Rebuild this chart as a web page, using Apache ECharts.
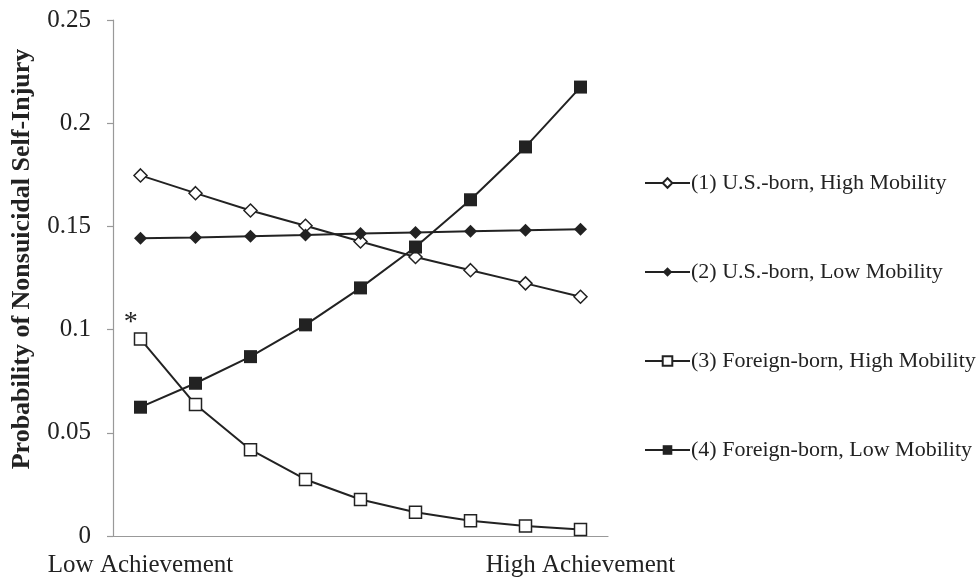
<!DOCTYPE html>
<html>
<head>
<meta charset="utf-8">
<script src="https://cdn.jsdelivr.net/npm/echarts@6/dist/echarts.min.js"></script>
<style>html,body{margin:0;padding:0;background:#fff;}#c{width:979px;height:585px;}</style>
</head>
<body>
<div id="c"></div>
<script>
var categories = ['Low Achievement', '', '', '', '', '', '', '', 'High Achievement'];
var yTicks = [0, 0.05, 0.1, 0.15, 0.2, 0.25];
var seriesNames = ['(1) U.S.-born, High Mobility', '(2) U.S.-born, Low Mobility', '(3) Foreign-born, High Mobility', '(4) Foreign-born, Low Mobility'];
var usHigh = [0.1747, 0.1661, 0.1577, 0.1503, 0.1427, 0.1352, 0.1288, 0.1224, 0.1159];
var usLow = [0.1442, 0.1446, 0.1452, 0.1458, 0.1465, 0.1471, 0.1477, 0.1481, 0.1486];
var fbHigh = [0.0954, 0.0637, 0.0418, 0.0274, 0.0177, 0.0115, 0.0074, 0.0048, 0.0031];
var fbLow = [0.0624, 0.0740, 0.0869, 0.1023, 0.1202, 0.1400, 0.1629, 0.1885, 0.2175];
var asteriskMark = '*';

var FONT = '"Liberation Serif","Times New Roman",serif';
var INK = '#222';
var chart = echarts.init(document.getElementById('c'), null, {renderer: 'canvas'});

function lineSeries(name, data, symbol, size, filled) {
  return {
    name: name, type: 'line', data: data, symbol: symbol, symbolSize: size,
    showAllSymbol: true,
    lineStyle: {color: INK, width: 2},
    itemStyle: {color: filled ? INK : '#fff', borderColor: INK, borderWidth: filled ? 0 : 1.5},
    emphasis: {disabled: true},
    animation: false
  };
}

var s3 = lineSeries(seriesNames[2], fbHigh.map(function (v, i) {
  if (i === 0) {
    return {value: v, label: {show: true, formatter: asteriskMark, position: [-10, -24], fontSize: 28, color: INK, fontFamily: FONT}};
  }
  return v;
}), 'rect', 12, false);

chart.setOption({
  animation: false,
  backgroundColor: '#fff',
  grid: {left: 113, right: 371, top: 20, bottom: 49, containLabel: false},
  legend: {
    orient: 'vertical', left: 639, top: 167,
    itemWidth: 45, itemHeight: 12, itemGap: 67,
    textStyle: {fontFamily: FONT, fontSize: 22, color: INK, padding: [0, 0, 0, -4]},
    data: seriesNames
  },
  xAxis: {
    type: 'category', data: categories, boundaryGap: true,
    axisLine: {lineStyle: {color: '#999', width: 1.2}},
    axisTick: {show: false},
    axisLabel: {interval: 0, margin: 17, fontFamily: FONT, fontSize: 25, color: INK}
  },
  yAxis: {
    type: 'value', min: yTicks[0], max: yTicks[yTicks.length - 1], interval: 0.05,
    name: 'Probability of Nonsuicidal Self-Injury', nameLocation: 'middle', nameGap: 78,
    nameTextStyle: {fontFamily: FONT, fontSize: 26, fontWeight: 'bold', color: INK, padding: [0, 0, 0, 38]},
    axisLine: {show: true, lineStyle: {color: '#999', width: 1.2}},
    axisTick: {show: true, length: 6, lineStyle: {color: '#999', width: 1.2}},
    splitLine: {show: false},
    axisLabel: {margin: 22, fontFamily: FONT, fontSize: 25, color: INK,
      formatter: function (v) { return String(+v.toFixed(2)); }}
  },
  series: [
    lineSeries(seriesNames[0], usHigh, 'diamond', 13, false),
    lineSeries(seriesNames[1], usLow, 'diamond', 13, true),
    s3,
    lineSeries(seriesNames[3], fbLow, 'rect', 13, true)
  ]
});
</script>
</body>
</html>
